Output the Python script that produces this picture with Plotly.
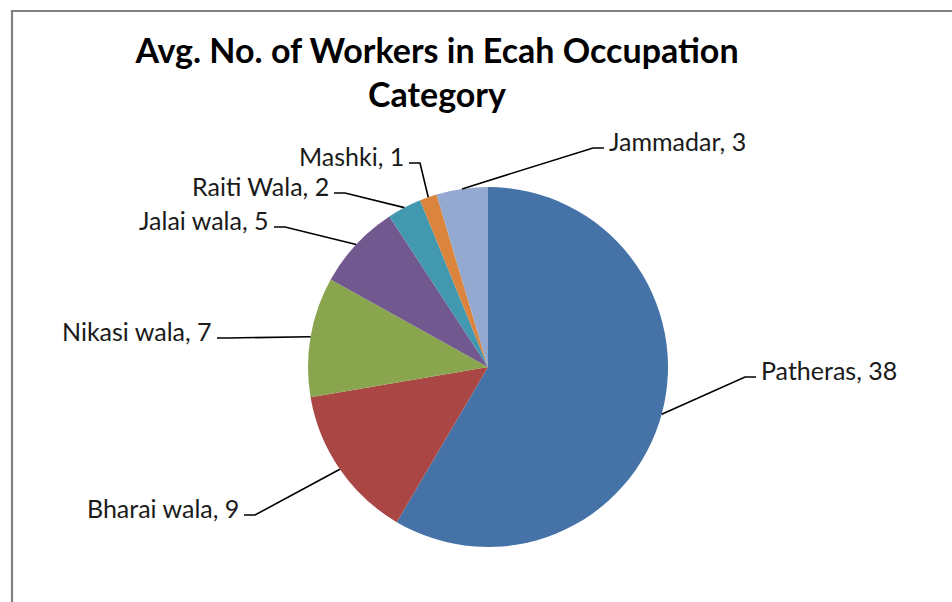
import math
import plotly.graph_objects as go

# ---- data ----
categories = ["Patheras", "Bharai wala", "Nikasi wala", "Jalai wala", "Raiti Wala", "Mashki", "Jammadar"]
workers = [38, 9, 7, 5, 2, 1, 3]
colors = ["#4572A7", "#AA4643", "#89A54E", "#71588F", "#4198AF", "#DB843D", "#93A9CF"]
title_text = "Avg. No. of Workers in Ecah Occupation<br>Category"

# ---- layout (pixels) ----
W, H = 952, 602
CX, CY, R = 488, 367, 180
# elbow point of each leader line and the side where the label sits
elbows = [(745, 377), (255, 515), (228, 338), (285, 227), (345, 193), (420, 163), (593, 148)]
sides = ["right", "left", "left", "left", "left", "left", "right"]
FONT = "Lato, Calibri, Carlito, sans-serif"


def px(x):
    return x / W


def py(y):
    return 1 - y / H


fig = go.Figure()
fig.add_trace(go.Pie(
    labels=categories, values=workers, sort=False, direction="clockwise", rotation=0,
    marker=dict(colors=colors, line=dict(width=0)),
    textinfo="none", hoverinfo="label+value", showlegend=False,
    domain=dict(x=[px(CX - R), px(CX + R)], y=[py(CY + R), py(CY - R)]),
))

shapes = []
annotations = []
total = sum(workers)
cum = 0
for name, v, (ex, ey), side in zip(categories, workers, elbows, sides):
    mid = (cum + v / 2) / total * 2 * math.pi
    cum += v
    sx = CX + R * math.sin(mid)
    sy = CY - R * math.cos(mid)
    d = 1 if side == "right" else -1
    endx = ex + d * 11
    path = f"M {px(sx)},{py(sy)} L {px(ex)},{py(ey)} L {px(endx)},{py(ey)}"
    shapes.append(dict(type="path", path=path, xref="paper", yref="paper",
                       line=dict(color="#000000", width=1.6)))
    annotations.append(dict(
        text=f"{name}, {v}", x=px(endx + d * 3), y=py(ey - 7), xref="paper", yref="paper",
        xanchor="left" if side == "right" else "right", yanchor="middle", showarrow=False,
        font=dict(family=FONT, size=25, color="#1a1a1a"),
    ))

# chart border (gray, top and left visible)
shapes.append(dict(type="rect", xref="paper", yref="paper",
                   x0=px(12), x1=px(W + 20), y0=py(H + 20), y1=py(11),
                   line=dict(color="#808080", width=2.2)))

fig.update_layout(
    width=W, height=H,
    margin=dict(l=0, r=0, t=0, b=0),
    paper_bgcolor="white", plot_bgcolor="white",
    title=dict(text=title_text, x=px(437), xanchor="center", y=py(63), yanchor="middle",
               font=dict(family=FONT, size=34, color="#000000", weight="bold")),
    shapes=shapes, annotations=annotations,
)

fig.write_html("out.html", config={"displayModeBar": False},
               post_script="document.body.style.margin='0';document.body.style.overflow='hidden';")
